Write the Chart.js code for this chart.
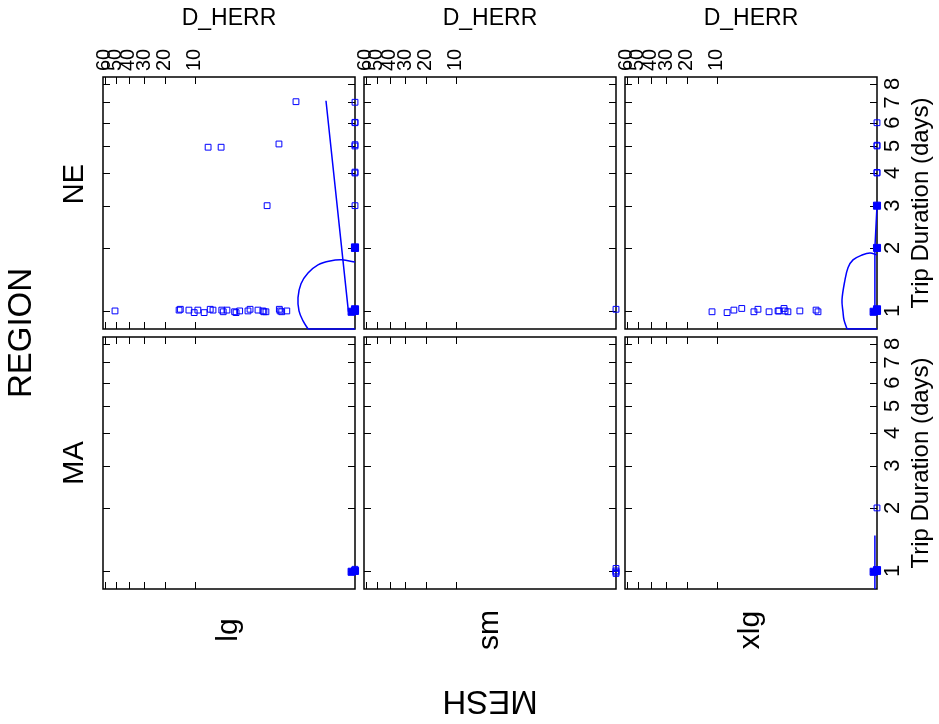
<!DOCTYPE html>
<html>
<head>
<meta charset="utf-8">
<script src="https://cdn.jsdelivr.net/npm/chart.js@4/dist/chart.umd.min.js"></script>
<style>
  html, body { margin: 0; padding: 0; background: #fff; }
  #wrap { position: relative; width: 939px; height: 724px; }
  #wrap canvas { position: absolute; left: 0; top: 0; }
</style>
</head>
<body>
<div id="wrap"></div>
<script>
// niveles y ticks
const meshLevels = ["lg", "sm", "xlg"];
const regionLevels = ["NE", "MA"];
const herrTicks = [10, 20, 30, 40, 50, 60];
const dayTicks = [1, 2, 3, 4, 5, 6, 7, 8];

// datos [D_HERR, dias]
const neLgOpen = [
  [50.6, 1.0], [14.6, 1.01], [14.2, 1.02], [11.6, 1.01], [10.2, 0.98], [9.3, 1.01],
  [7.9, 0.98], [6.7, 1.02], [6.2, 1.01], [4.8, 1.01], [4.6, 0.99], [4.1, 1.01],
  [3.2, 0.99], [3.05, 0.98], [2.7, 1.0], [2.0, 1.0], [1.85, 1.02], [1.35, 1.01],
  [1.1, 1.0], [1.05, 0.99], [0.96, 0.99], [0.5, 1.02], [0.48, 1.0], [0.44, 0.99], [0.33, 1.0],
  [0.185, 7.03], [7.1, 4.95], [4.9, 4.95], [0.51, 5.08], [0.91, 3.0],
  [0, 7.0], [0, 6.0], [0, 6.02], [0, 5.0], [0, 5.05], [0, 4.0], [0, 4.03], [0, 3.0]
];
const neLgFilled = [[0, 1.0], [0.000002, 0.99], [0, 1.02], [0, 2.0], [0, 2.01]];
const neLgStraight = [[0.0108, 7.08], [0.00003, 1.0], [0, 1.0]];
const neLgArc = [
  [0, 1.73], [0.000435, 1.77], [0.00595, 1.75], [0.0286, 1.68], [0.0744, 1.54],
  [0.1296, 1.37], [0.161, 1.17], [0.15, 1.0], [0.111, 0.885], [0.0744, 0.801]
];
const neLgBottom = [[0.0744, 0.801], [0, 0.801]];

const neSmOpen = [[0, 1.02]];

const neXlgOpen = [
  [11.3, 0.99], [7.7, 0.98], [6.4, 1.01], [5.1, 1.03], [3.5, 0.99], [3.06, 1.02],
  [2.07, 0.99], [1.46, 1.0], [1.41, 1.0], [1.14, 1.03], [1.09, 1.0], [0.96, 0.99],
  [0.54, 1.0], [0.21, 1.01], [0.185, 0.99],
  [0, 6.0], [0, 5.0], [0, 5.03], [0, 4.0], [0, 4.02]
];
const neXlgFilled = [[0, 1.0], [0.000002, 0.99], [0, 1.02], [0, 2.0], [0, 3.0]];
const neXlgArc = [
  [0, 1.86], [0.0000366, 1.9], [0.000772, 1.86], [0.00506, 1.77], [0.0108, 1.63],
  [0.016, 1.43], [0.0229, 1.14], [0.0204, 0.988], [0.0181, 0.896], [0.0124, 0.801]
];
const neXlgBottom = [[0.0124, 0.801], [0, 0.801]];
const neXlgEdge = [[0.0000003, 1.0], [0.0000003, 2.0], [0, 3.0]];

const maLgOpen = [[0, 1.02]];
const maLgFilled = [[0, 1.0], [0.000002, 0.99]];

const maSmOpen = [[0, 1.03], [0, 1.0], [0, 0.985], [0, 0.97]];

const maXlgOpen = [[0, 2.0]];
const maXlgFilled = [[0, 1.0], [0.000002, 0.99], [0, 1.01]];
const maXlgEdge = [[0.0000003, 1.5], [0.0000003, 0.801]];

// escala raiz cuarta
const LinearScale = Chart.LinearScale || Chart.registry.getScale("linear");
const root4 = v => Math.sign(v) * Math.pow(Math.abs(v), 0.25);
class Root4Scale extends LinearScale {
  getPixelForValue(value) {
    const a = root4(this.min), b = root4(this.max);
    return this.getPixelForDecimal((root4(value) - a) / (b - a));
  }
  getValueForPixel(pixel) {
    const a = root4(this.min), b = root4(this.max);
    const r = a + this.getDecimalForPixel(pixel) * (b - a);
    return Math.sign(r) * Math.pow(r, 4);
  }
}
Root4Scale.id = "root4";
Root4Scale.defaults = LinearScale.defaults;
Chart.register(Root4Scale);

const W = 939, H = 724;
const BLUE = "#0000ff";
const FONT = "'Liberation Sans', Arial, sans-serif";
const colLeft = [103, 364, 625];
const colRight = [355, 616, 877];
const rowTop = [77, 337];
const rowBottom = [329, 589];
const stripY = [184, 463];

const toPts = arr => arr.map(([x, y]) => ({ x, y }));

const openSet = arr => ({
  data: toPts(arr), pointStyle: "rect", pointRadius: 4.1, pointBorderWidth: 1,
  pointBorderColor: BLUE, pointBackgroundColor: "rgba(0,0,0,0)", showLine: false, clip: false
});
const filledSet = arr => ({
  data: toPts(arr), pointStyle: "rect", pointRadius: 5, pointBorderWidth: 1,
  pointBorderColor: BLUE, pointBackgroundColor: BLUE, showLine: false, clip: false
});
const lineSet = (arr, tension) => ({
  data: toPts(arr), showLine: true, pointRadius: 0, borderColor: BLUE,
  borderWidth: 1.5, tension: tension || 0, clip: false
});

const panels = {
  "NE-lg": [openSet(neLgOpen), filledSet(neLgFilled), lineSet(neLgStraight), lineSet(neLgArc, 0.35), lineSet(neLgBottom)],
  "NE-sm": [openSet(neSmOpen)],
  "NE-xlg": [openSet(neXlgOpen), filledSet(neXlgFilled), lineSet(neXlgArc, 0.35), lineSet(neXlgBottom), lineSet(neXlgEdge)],
  "MA-lg": [openSet(maLgOpen), filledSet(maLgFilled)],
  "MA-sm": [openSet(maSmOpen)],
  "MA-xlg": [openSet(maXlgOpen), filledSet(maXlgFilled), lineSet(maXlgEdge)]
};

const rotText = (ctx, text, x, y, angle, size, align) => {
  ctx.save();
  ctx.translate(x, y);
  ctx.rotate(angle);
  ctx.font = size + "px " + FONT;
  ctx.fillStyle = "#000";
  ctx.textAlign = align || "center";
  ctx.textBaseline = "middle";
  ctx.fillText(text, 0, 0);
  ctx.restore();
};

// marco, ticks y etiquetas de cada panel
const panelPlugin = {
  id: "panelFrame",
  beforeDatasetsDraw(chart, args, opts) {
    const { ctx, chartArea: a, scales: { x, y } } = chart;
    ctx.save();
    ctx.strokeStyle = "#000";
    ctx.lineWidth = 1;
    const tl = 7;
    herrTicks.forEach(v => {
      const px = Math.round(x.getPixelForValue(v)) + 0.5;
      ctx.beginPath();
      ctx.moveTo(px, a.top); ctx.lineTo(px, a.top + tl);
      ctx.moveTo(px, a.bottom); ctx.lineTo(px, a.bottom - tl);
      ctx.stroke();
    });
    dayTicks.forEach(v => {
      const py = Math.round(y.getPixelForValue(v)) + 0.5;
      ctx.beginPath();
      ctx.moveTo(a.left, py); ctx.lineTo(a.left + tl, py);
      ctx.moveTo(a.right, py); ctx.lineTo(a.right - tl, py);
      ctx.stroke();
    });
    ctx.lineWidth = 1.5;
    ctx.strokeRect(a.left, a.top, a.right - a.left, a.bottom - a.top);
    ctx.restore();

    if (opts.row === 0) {
      herrTicks.forEach(v => rotText(ctx, String(v), x.getPixelForValue(v), a.top - 6, -Math.PI / 2, 20, "left"));
      rotText(ctx, "D_HERR", (a.left + a.right) / 2, 19, 0, 23);
    }
    if (opts.col === 2) {
      dayTicks.forEach(v => rotText(ctx, String(v), a.right + 16, y.getPixelForValue(v), -Math.PI / 2, 22));
      rotText(ctx, "Trip Duration (days)", a.right + 44, (a.top + a.bottom) / 2, -Math.PI / 2, 24);
    }
    if (opts.col === 0) {
      rotText(ctx, regionLevels[opts.row], 75, stripY[opts.row], -Math.PI / 2, 29);
    }
    if (opts.row === 1) {
      rotText(ctx, meshLevels[opts.col], (a.left + a.right) / 2, 630, -Math.PI / 2, 30);
    }
    if (opts.row === 0 && opts.col === 0) {
      rotText(ctx, "REGION", 22, 333, -Math.PI / 2, 33);
      rotText(ctx, "MESH", 490, 700, Math.PI, 33);
    }
  }
};

const wrap = document.getElementById("wrap");
regionLevels.forEach((region, row) => {
  meshLevels.forEach((mesh, col) => {
    const canvas = document.createElement("canvas");
    canvas.width = W;
    canvas.height = H;
    wrap.appendChild(canvas);
    new Chart(canvas, {
      type: "scatter",
      data: { datasets: panels[region + "-" + mesh] },
      options: {
        responsive: false,
        animation: false,
        devicePixelRatio: 1,
        layout: {
          padding: { left: colLeft[col], right: W - colRight[col], top: rowTop[row], bottom: H - rowBottom[row] }
        },
        scales: {
          x: { type: "root4", min: 0, max: 61.5, reverse: true, display: false },
          y: { type: "root4", min: 0.8, max: 8.4, display: false }
        },
        plugins: {
          legend: { display: false },
          tooltip: { enabled: false },
          panelFrame: { row, col }
        }
      },
      plugins: [panelPlugin]
    });
  });
});
</script>
</body>
</html>
